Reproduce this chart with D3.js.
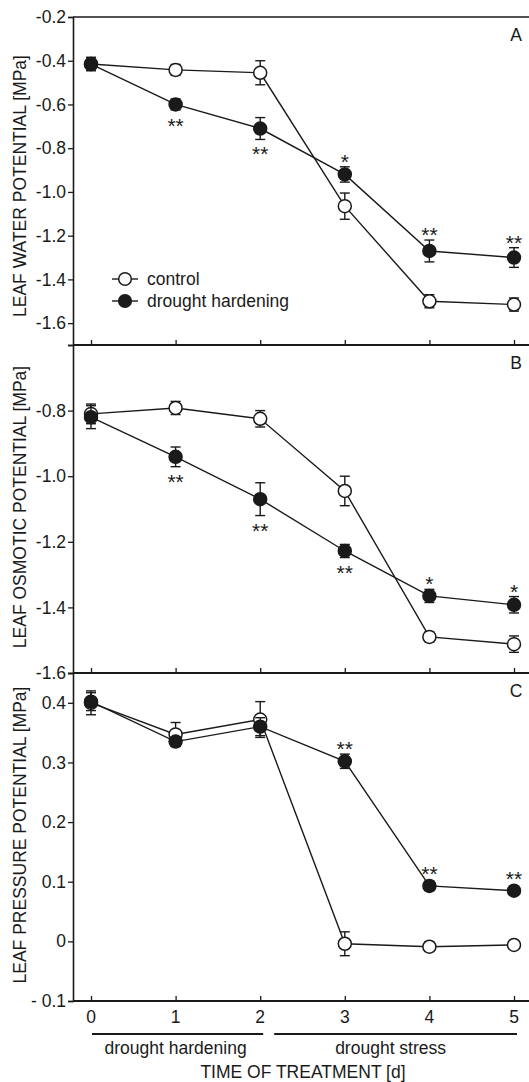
<!DOCTYPE html>
<html>
<head>
<meta charset="utf-8">
<script src="https://cdn.jsdelivr.net/npm/d3@7"></script>
<style>
  body { margin: 0; background: #fff; }
  svg { display: block; font-family: "Liberation Sans", Arial, sans-serif; }
</style>
</head>
<body>
<svg></svg>
<script>
let days = [0, 1, 2, 3, 4, 5]

// panel A: leaf water potential
let waterControl = [-0.415, -0.442, -0.455, -1.065, -1.50, -1.515]
let waterControlErr = [0.03, 0.025, 0.055, 0.06, 0.03, 0.03]
let waterDrought = [-0.415, -0.60, -0.71, -0.92, -1.27, -1.30]
let waterDroughtErr = [0.03, 0.025, 0.05, 0.035, 0.05, 0.045]
let waterStars = ['', '**', '**', '*', '**', '**']
let waterStarsBelow = [false, true, true, false, false, false]

// panel B: leaf osmotic potential
let osmControl = [-0.81, -0.792, -0.825, -1.045, -1.49, -1.512]
let osmControlErr = [0.03, 0.02, 0.025, 0.045, 0.015, 0.025]
let osmDrought = [-0.82, -0.941, -1.07, -1.228, -1.365, -1.392]
let osmDroughtErr = [0.035, 0.03, 0.05, 0.02, 0.02, 0.025]
let osmStars = ['', '**', '**', '**', '*', '*']
let osmStarsBelow = [false, true, true, true, false, false]

// panel C: leaf pressure potential
let presControl = [0.40, 0.347, 0.372, -0.004, -0.009, -0.006]
let presControlErr = [0.02, 0.02, 0.03, 0.02, 0.008, 0.005]
let presDrought = [0.402, 0.335, 0.36, 0.302, 0.093, 0.085]
let presDroughtErr = [0.015, 0.008, 0.015, 0.012, 0.008, 0.006]
let presStars = ['', '', '', '**', '**', '**']
let presStarsBelow = [false, false, false, false, false, false]

let waterTicks = [-1.6, -1.4, -1.2, -1.0, -0.8, -0.6, -0.4, -0.2]
let osmTicks = [-1.6, -1.4, -1.2, -1.0, -0.8]
let presTicks = [-0.1, 0, 0.1, 0.2, 0.3, 0.4]

let w = 529
let h = 1082
let left = 73
let right = 529
let ink = '#1a1a1a'
let fs = 17.5
let r = 6.5

let svg = d3.select('svg').attr('width', w).attr('height', h)

let xScale = d3.scaleLinear().domain([0, 5]).range([91, 514])

// plain hyphen instead of the unicode minus
let oneDec = (d) => d3.format('.1f')(d).replace('\u2212', '-')

let panels = [
    {
        top: 17, bottom: 345, domain: [-1.7, -0.2], ticks: waterTicks, fmt: oneDec,
        title: 'LEAF WATER POTENTIAL [MPa]', letter: 'A', titleShift: 5,
        control: waterControl, controlErr: waterControlErr,
        drought: waterDrought, droughtErr: waterDroughtErr,
        stars: waterStars, below: waterStarsBelow
    },
    {
        top: 345, bottom: 673, domain: [-1.6, -0.6], ticks: osmTicks, fmt: oneDec,
        title: 'LEAF OSMOTIC POTENTIAL [MPa]', letter: 'B', titleShift: -2,
        control: osmControl, controlErr: osmControlErr,
        drought: osmDrought, droughtErr: osmDroughtErr,
        stars: osmStars, below: osmStarsBelow
    },
    {
        top: 673, bottom: 1001, domain: [-0.1, 0.45], ticks: presTicks,
        fmt: (d) => d === 0 ? '0' : (d < 0 ? '- ' + oneDec(-d) : oneDec(d)),
        title: 'LEAF PRESSURE POTENTIAL [MPa]', letter: 'C', titleShift: -2,
        control: presControl, controlErr: presControlErr,
        drought: presDrought, droughtErr: presDroughtErr,
        stars: presStars, below: presStarsBelow
    }
]

let drawSeries = (g, yScale, values, errs, filled) => {
    let line = d3.line()
        .x((d, i) => xScale(days[i]))
        .y((d) => yScale(d))

    g.append('path')
        .datum(values)
        .attr('d', line)
        .attr('fill', 'none')
        .attr('stroke', ink)
        .attr('stroke-width', 1.4)

    let eb = g.append('g')
        .selectAll('g')
        .data(values)
        .enter()
        .append('g')
        .attr('stroke', ink)
        .attr('stroke-width', 1.4)

    eb.append('line')
        .attr('x1', (d, i) => xScale(days[i]))
        .attr('x2', (d, i) => xScale(days[i]))
        .attr('y1', (d, i) => yScale(d - errs[i]))
        .attr('y2', (d, i) => yScale(d + errs[i]))
    eb.append('line')
        .attr('x1', (d, i) => xScale(days[i]) - 5)
        .attr('x2', (d, i) => xScale(days[i]) + 5)
        .attr('y1', (d, i) => yScale(d - errs[i]))
        .attr('y2', (d, i) => yScale(d - errs[i]))
    eb.append('line')
        .attr('x1', (d, i) => xScale(days[i]) - 5)
        .attr('x2', (d, i) => xScale(days[i]) + 5)
        .attr('y1', (d, i) => yScale(d + errs[i]))
        .attr('y2', (d, i) => yScale(d + errs[i]))

    g.append('g')
        .selectAll('circle')
        .data(values)
        .enter()
        .append('circle')
        .attr('cx', (d, i) => xScale(days[i]))
        .attr('cy', (d) => yScale(d))
        .attr('r', r)
        .attr('fill', filled ? ink : '#fff')
        .attr('stroke', ink)
        .attr('stroke-width', 1.5)
}

panels.forEach((p) => {
    let yScale = d3.scaleLinear().domain(p.domain).range([p.bottom, p.top])
    let g = svg.append('g')

    // y axis
    let yAxis = d3.axisLeft(yScale)
        .tickValues(p.ticks)
        .tickFormat(p.fmt)
        .tickSize(5)
        .tickPadding(2)
    let ya = g.append('g')
        .attr('transform', 'translate(' + left + ',0)')
        .call(yAxis)
    ya.select('.domain').attr('stroke', ink).attr('stroke-width', 1.6)
    ya.selectAll('.tick line').attr('stroke', ink).attr('stroke-width', 1.3)
    ya.selectAll('.tick text')
        .attr('font-size', fs)
        .attr('fill', ink)
        .style('font-family', '"Liberation Sans", Arial, sans-serif')

    // bottom axis with inward ticks
    let xAxis = d3.axisBottom(xScale)
        .tickValues(days)
        .tickSize(-5)
        .tickFormat('')
    let xa = g.append('g')
        .attr('transform', 'translate(0,' + p.bottom + ')')
        .call(xAxis)
    xa.select('.domain')
        .attr('d', 'M' + left + ',0H' + right)
        .attr('stroke', ink).attr('stroke-width', 1.8)
    xa.selectAll('.tick line').attr('stroke', ink).attr('stroke-width', 1.3)

    // top frame line for first panel
    if (p.top === 17) {
        g.append('line')
            .attr('x1', left).attr('x2', right)
            .attr('y1', p.top).attr('y2', p.top)
            .attr('stroke', ink).attr('stroke-width', 1.6)
    }

    // y title
    g.append('text')
        .attr('transform', 'translate(21,' + ((p.top + p.bottom) / 2 + p.titleShift) + ') rotate(-90)')
        .attr('text-anchor', 'middle')
        .attr('dominant-baseline', 'middle')
        .attr('font-size', fs)
        .attr('fill', ink)
        .text(p.title)

    // panel letter
    g.append('text')
        .attr('x', 516)
        .attr('y', p.top + 24)
        .attr('text-anchor', 'middle')
        .attr('font-size', fs)
        .attr('fill', ink)
        .text(p.letter)

    drawSeries(g, yScale, p.control, p.controlErr, false)
    drawSeries(g, yScale, p.drought, p.droughtErr, true)

    // significance stars, clear of both the error bar and the marker
    g.append('g')
        .selectAll('text')
        .data(p.stars)
        .enter()
        .append('text')
        .attr('x', (d, i) => xScale(days[i]))
        .attr('y', (d, i) => {
            let cy = yScale(p.drought[i])
            if (p.below[i]) {
                return Math.max(yScale(p.drought[i] - p.droughtErr[i]), cy + r) + 22
            }
            return Math.min(yScale(p.drought[i] + p.droughtErr[i]), cy - r) + 2
        })
        .attr('text-anchor', 'middle')
        .attr('font-size', 21)
        .attr('fill', ink)
        .text((d) => d)
})

// x tick labels under bottom panel
svg.append('g')
    .selectAll('text')
    .data(days)
    .enter()
    .append('text')
    .attr('x', (d) => xScale(d))
    .attr('y', 1023)
    .attr('text-anchor', 'middle')
    .attr('font-size', fs)
    .attr('fill', ink)
    .text((d) => d)

// treatment phase bars
let phases = [
    { label: 'drought hardening', from: 0, to: 2 },
    { label: 'drought stress', from: 2, to: 5 }
]
phases.forEach((ph, i) => {
    let x1 = i === 0 ? xScale(ph.from) + 1 : xScale(ph.from) + 14
    let x2 = xScale(ph.to) + 3
    svg.append('line')
        .attr('x1', x1).attr('x2', x2)
        .attr('y1', 1034).attr('y2', 1034)
        .attr('stroke', ink).attr('stroke-width', 1.8)
    svg.append('text')
        .attr('x', i === 0 ? (x1 + x2) / 2 - 2 : (x1 + x2) / 2 - 5)
        .attr('y', 1054)
        .attr('text-anchor', 'middle')
        .attr('font-size', fs)
        .attr('fill', ink)
        .text(ph.label)
})

svg.append('text')
    .attr('x', 303)
    .attr('y', 1078)
    .attr('text-anchor', 'middle')
    .attr('font-size', fs)
    .attr('fill', ink)
    .text('TIME OF TREATMENT [d]')

// legend
let legend = [
    { label: 'control', filled: false, y: 279 },
    { label: 'drought hardening', filled: true, y: 301 }
]
legend.forEach((l) => {
    svg.append('line')
        .attr('x1', 112).attr('x2', 138)
        .attr('y1', l.y).attr('y2', l.y)
        .attr('stroke', ink).attr('stroke-width', 1.4)
    svg.append('circle')
        .attr('cx', 125).attr('cy', l.y).attr('r', 6.3)
        .attr('fill', l.filled ? ink : '#fff')
        .attr('stroke', ink).attr('stroke-width', 1.5)
    svg.append('text')
        .attr('x', 147).attr('y', l.y + 6)
        .attr('font-size', fs)
        .attr('fill', ink)
        .text(l.label)
})
</script>
</body>
</html>
